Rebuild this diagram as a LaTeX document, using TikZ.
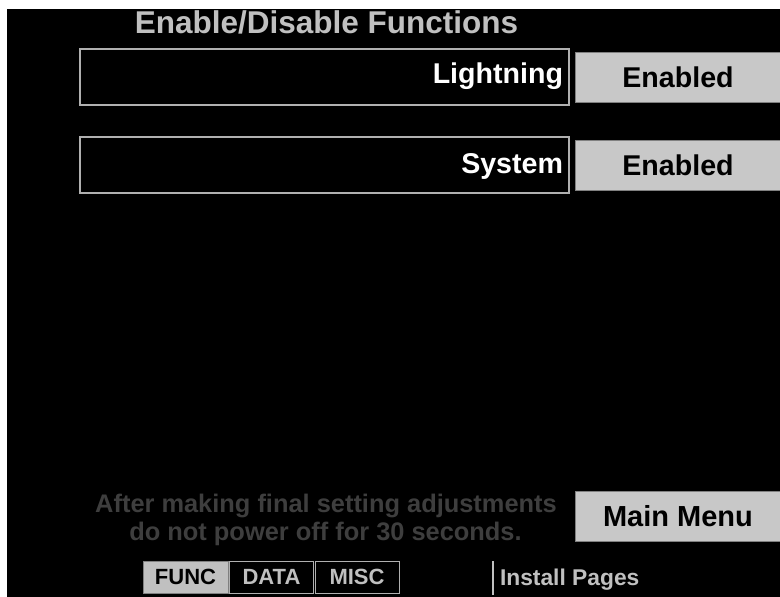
\documentclass[tikz,border=0pt]{standalone}
\usepackage{fontspec}
\setmainfont{Liberation Sans}
\usetikzlibrary{positioning}
\definecolor{PanelGray}{RGB}{200,200,200}
\definecolor{FrameGray}{RGB}{176,176,176}
\definecolor{EdgeGray}{RGB}{128,128,128}
\definecolor{TitleGray}{RGB}{192,192,192}
\definecolor{DimGray}{RGB}{62,62,62}

\begin{document}
\begin{tikzpicture}[x=1pt, y=-1pt,
    every node/.style={inner sep=0pt, outer sep=0pt},
    bigtxt/.style={font=\bfseries\fontsize{28.6}{32}\selectfont},
    smalltxt/.style={font=\bfseries\fontsize{22}{24}\selectfont},
    fnbox/.style={draw=FrameGray, line width=1.8pt, fill=black, minimum width=489pt, minimum height=56pt, anchor=north west},
    btnbox/.style={draw=EdgeGray, line width=0.8pt, fill=PanelGray, minimum width=206pt, minimum height=50pt, anchor=north west, bigtxt},
    tabbox/.style={draw=EdgeGray, line width=1pt, minimum width=84pt, minimum height=32pt, smalltxt}]
  \useasboundingbox (0,0) rectangle (780,597);
  \fill[white] (0,0) rectangle (780,597);
  \fill[black] (7,9) rectangle (780,597);

  % heading
  \node[TitleGray, font=\bfseries\fontsize{31.5}{34}\selectfont, anchor=base] (title) at (326.5,33.5) {Enable/Disable Functions};

  % function rows
  \node[fnbox] (lightbox) at (80,49) {};
  \node[white, bigtxt, anchor=base east] (lightlbl) at (563,83) {Lightning};
  \node[btnbox] (lightbtn) at (575,52) {Enabled};

  \node[fnbox] (sysbox) at (80,137) {};
  \node[white, bigtxt, anchor=base east] (syslbl) at (563,173) {System};
  \node[btnbox] (sysbtn) at (575,140) {Enabled};

  % warning and menu button
  \node[DimGray, font=\bfseries\fontsize{25.4}{28}\selectfont, anchor=base] (warnA) at (326,512) {After making final setting adjustments};
  \node[DimGray, font=\bfseries\fontsize{25.4}{28}\selectfont, anchor=base] (warnB) at (325.5,540) {do not power off for 30 seconds.};
  \node[btnbox, font=\bfseries\fontsize{29}{32}\selectfont] (menubtn) at (575,491) {Main Menu};

  % page tabs
  \node[tabbox, fill=TitleGray, text=black, minimum width=85pt, anchor=north west] (functab) at (143,561) {FUNC};
  \node[tabbox, draw=FrameGray, text=TitleGray, right=1.5pt of functab] (datatab) {DATA};
  \node[tabbox, draw=FrameGray, text=TitleGray, right=1.5pt of datatab] (misctab) {MISC};

  \coordinate (sepTop) at (493,561);
  \coordinate (sepBot) at (493,595);
  \draw[TitleGray, line width=1.5pt] (sepTop) -- (sepBot);
  \node[TitleGray, font=\bfseries\fontsize{22.8}{26}\selectfont, anchor=base west] (installlbl) at (500,585) {Install Pages};
\end{tikzpicture}
\end{document}
